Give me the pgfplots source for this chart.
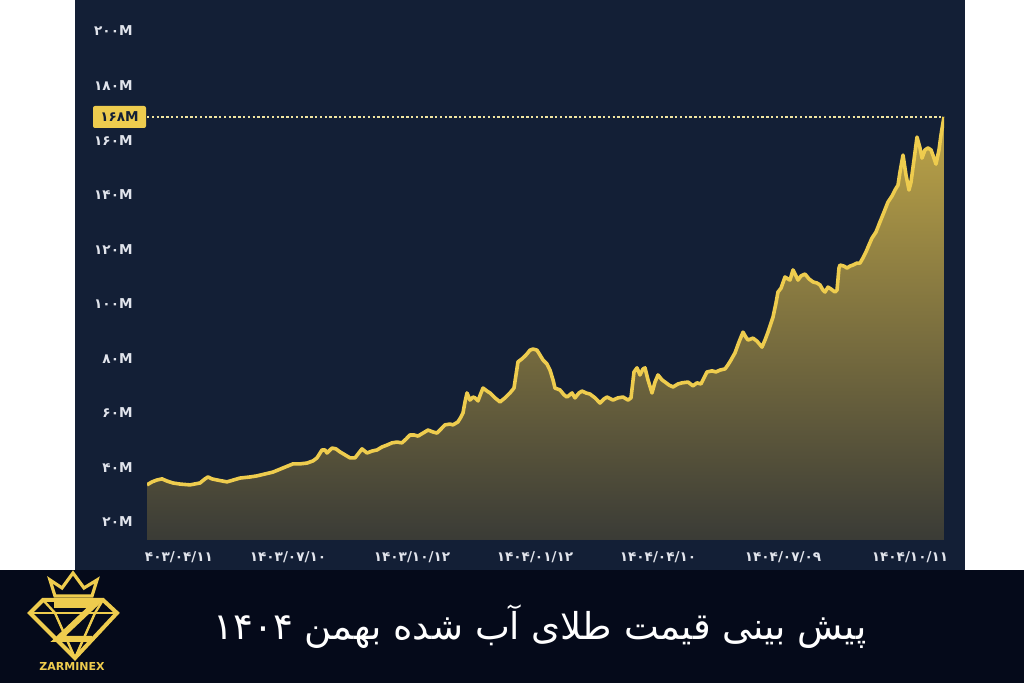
\documentclass[border=0pt]{standalone}
\usepackage{pgfplots}
\pgfplotsset{compat=1.18}
\usepackage{pgfplotstable}
\usepackage{fontspec}
\setmainfont{DejaVu Sans}
\TeXXeTstate=1
\newfontfamily\arabicfont[Script=Arabic]{DejaVu Sans}
\newfontfamily\tickfont{DejaVu Sans}
\definecolor{panel}{RGB}{19,31,54}
\definecolor{band}{RGB}{5,10,26}
\definecolor{gold}{RGB}{238,204,78}
\definecolor{dotc}{RGB}{240,228,160}
\definecolor{labelc}{RGB}{225,228,236}
\definecolor{filltop}{RGB}{190,165,72}
\definecolor{fillbot}{RGB}{58,59,54}
\pgfplotstableread{
x y
147 33.6
152 34.7
157 35.4
162 35.8
167 35.0
173 34.3
180 33.9
190 33.6
200 34.3
205 35.8
208 36.5
212 35.8
217 35.4
227 34.7
240 36.1
250 36.5
257 36.9
265 37.6
273 38.3
283 39.8
293 41.3
300 41.3
307 41.6
313 42.4
317 43.5
322 46.4
325 46.4
327 45.3
332 47.1
336 46.8
340 45.7
345 44.6
350 43.5
355 43.5
362 46.8
367 45.3
372 46.0
377 46.4
382 47.5
387 48.2
392 49.0
397 49.3
402 49.0
406 50.4
410 51.9
414 51.9
418 51.5
423 52.6
428 53.7
433 53.0
437 52.6
441 54.1
445 55.6
450 55.9
453 55.6
458 56.7
461 58.5
463 60.0
465 64.0
467 67.3
470 64.7
473 65.8
475 65.5
478 64.4
481 67.3
483 69.1
487 68.0
490 67.3
495 65.5
500 64.0
505 65.5
510 67.3
514 69.1
516 73.9
518 78.7
522 79.8
526 81.2
530 83.0
533 83.4
537 83.0
540 81.2
543 79.4
547 77.9
550 75.7
553 72.1
555 69.1
560 68.4
564 66.6
567 65.8
572 67.3
575 65.5
579 67.3
582 68.0
586 67.3
590 66.9
595 65.5
600 63.6
604 65.1
607 65.8
613 64.7
618 65.5
623 65.8
628 64.7
631 65.5
634 75.0
637 76.5
640 73.9
643 76.1
645 76.5
648 72.1
652 67.3
655 71.3
658 73.9
662 72.1
665 71.3
669 70.2
673 69.5
678 70.6
682 71.0
688 71.3
693 69.9
697 71.0
701 70.6
707 75.0
712 75.4
716 75.0
720 75.7
725 76.1
728 77.6
731 79.4
735 82.0
739 86.0
743 89.6
746 87.7
748 86.7
753 87.4
757 86.3
762 84.1
765 86.7
768 89.6
771 92.9
773 95.1
776 100.3
778 104.3
781 105.7
785 109.8
788 109.1
790 108.7
793 112.4
796 110.2
798 108.7
801 110.2
805 110.9
809 109.1
813 108.0
817 107.6
820 106.9
823 105.0
825 104.3
828 106.1
831 105.4
835 104.3
837 105.0
839 113.1
840 114.2
844 113.8
847 113.1
850 113.8
853 114.2
857 114.9
860 114.9
863 116.8
866 119.0
869 121.6
872 124.1
876 126.3
880 130.0
884 133.6
888 137.3
892 139.5
895 141.7
898 143.5
900 148.3
903 154.5
906 147.2
909 141.7
911 144.6
914 152.7
917 161.1
920 157.1
922 153.4
925 156.4
928 157.1
931 156.4
934 153.4
936 151.2
939 156.4
941 161.9
944 168.5
}\gold

\begin{document}
\begin{tikzpicture}[x=0.5pt,y=0.5pt]
\fill[white] (0,0) rectangle (1024,683);
\fill[panel] (75,113) rectangle (965,683);
\fill[band] (0,0) rectangle (1024,113);
\begin{axis}[
  at={(73.5pt,71.5pt)}, anchor=south west,
  scale only axis, width=398.5pt, height=254.5pt,
  xmin=147, xmax=944, ymin=13.4, ymax=200,
  axis line style={draw=none},
  major tick style={draw=none},
  ytick={20,40,...,200},
  yticklabels={۲۰M,۴۰M,۶۰M,۸۰M,۱۰۰M,۱۲۰M,۱۴۰M,۱۶۰M,۱۸۰M,۲۰۰M},
  xtick={179,288,412,535,658,783,910},
  xticklabels={۴۰۳/۰۴/۱۱,۱۴۰۳/۰۷/۱۰,۱۴۰۳/۱۰/۱۲,۱۴۰۴/۰۱/۱۲,۱۴۰۴/۰۴/۱۰,۱۴۰۴/۰۷/۰۹,۱۴۰۴/۱۰/۱۱},
  yticklabel style={font=\tickfont\bfseries\fontsize{6.8}{7}\selectfont, text=labelc, anchor=east, inner sep=0pt, xshift=-7pt},
  xticklabel style={font=\tickfont\bfseries\fontsize{6.8}{7}\selectfont, text=labelc, anchor=center, inner sep=0pt, yshift=-8.5pt},
]
\addplot[draw=none, top color=filltop, bottom color=fillbot] table[x=x,y=y] {\gold} \closedcycle;
\addplot[gold, line width=1.8pt, line join=round] table[x=x,y=y] {\gold};
\addplot[dotc, line width=0.6pt, dash pattern=on 1.2pt off 1.2pt] coordinates {(147,168.5) (944,168.5)};
\end{axis}
% current value tag
\node[fill=gold, rounded corners=1pt, minimum width=26.5pt, minimum height=11pt, inner sep=0pt,
      font=\tickfont\bfseries\fontsize{6.8}{7}\selectfont, text=panel] at (119.5,566) {۱۶۸M};
% logo
\begin{scope}[gold, line width=2pt, line join=miter]
  \draw (43,83) -- (103,83) -- (117,70) -- (75,25) -- (30,70) -- cycle;
  \draw[line width=1.2pt] (30,70) -- (117,70);
  \draw[line width=1.2pt] (43,83) -- (55,70) -- (75,25) -- (95,70) -- (103,83);
  \draw[line width=3pt] (54,78) -- (94,78) -- (58,44) -- (92,44);
  \draw[line width=1.6pt] (55,87) -- (50,103) -- (62,95) -- (73,110) -- (84,95) -- (97,103) -- (92,87) -- cycle;
\end{scope}
\node[text=gold, font=\bfseries\fontsize{5.5}{6}\selectfont] at (72,16) {ZARMINEX};
% title
\node[text=white, font=\arabicfont\fontsize{18.5}{22}\selectfont] at (540,56) {\beginR پیش بینی قیمت طلای آب شده بهمن \beginL۱۴۰۴\endL\endR};
\pgfresetboundingbox
\path (0,0) rectangle (1024,683);
\end{tikzpicture}
\end{document}
